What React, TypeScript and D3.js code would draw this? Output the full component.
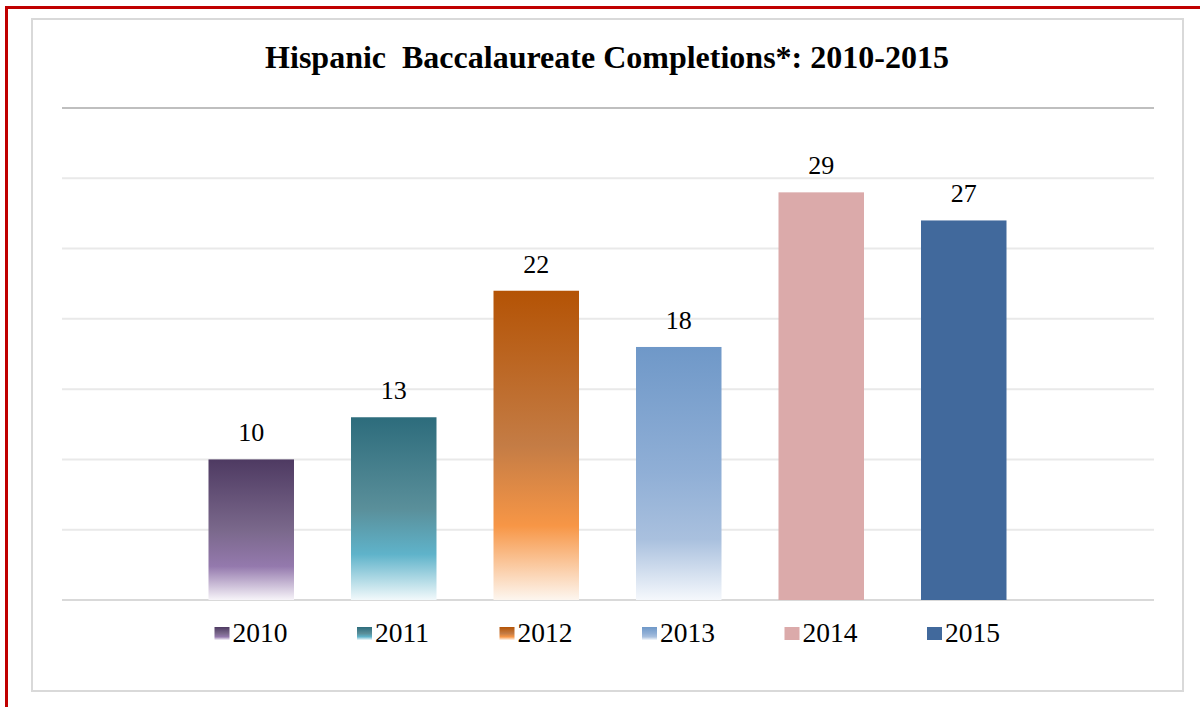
import React from 'react';
import * as d3 from 'd3';

const years = ['2010', '2011', '2012', '2013', '2014', '2015'];
const completions = [10, 13, 22, 18, 29, 27];
const yTicks = [0, 5, 10, 15, 20, 25, 30, 35];

// gradient stops per series (solid ones have a single colour)
const fills: { stops: [number, string][] }[] = [
  { stops: [[0, '#4e3a62'], [0.5, '#7a688b'], [0.76, '#9479ad'], [1, '#f7f4f9']] },
  { stops: [[0, '#2d6c7c'], [0.5, '#5a8f9a'], [0.75, '#5fb3ca'], [1, '#f2f9fb']] },
  { stops: [[0, '#b45305'], [0.5, '#c47c45'], [0.76, '#f79646'], [1, '#fdf6ef']] },
  { stops: [[0, '#6f98c8'], [0.5, '#90afd6'], [0.76, '#a9c0de'], [1, '#f5f8fc']] },
  { stops: [[0, '#dbaaaa']] },
  { stops: [[0, '#41699c']] },
];

const W = 1200;
const H = 707;
const plotLeft = 62;
const plotRight = 1154;

export default function App() {
  const x = d3.scaleBand<string>().domain(years).range([180, 1035]).paddingInner(0.4).paddingOuter(0.2);
  const y = d3.scaleLinear().domain([0, 35]).range([600, 108]);

  return (
    <svg width={W} height={H} style={{ position: 'absolute', left: 0, top: 0, background: '#fff' }}
      fontFamily="'Liberation Serif', 'Times New Roman', serif">
      <defs>
        {fills.map((f, i) => (
          <linearGradient key={i} id={`g${i}`} x1="0" y1="0" x2="0" y2="1">
            {f.stops.map(([o, c], j) => <stop key={j} offset={o} stopColor={c} />)}
          </linearGradient>
        ))}
      </defs>
      <rect x={0} y={0} width={W} height={H} fill="#fff" />
      {/* outer red frame */}
      <rect x={6.5} y={7.5} width={W + 20} height={H + 20} fill="none" stroke="#c00000" strokeWidth={3} />
      {/* chart frame */}
      <rect x={32} y={19} width={1151} height={672} fill="#fff" stroke="#d9d9d9" strokeWidth={2} />

      <text x={607} y={68} textAnchor="middle" fontWeight="bold" fontSize={32} style={{ whiteSpace: 'pre' }}>
        {'Hispanic  Baccalaureate Completions*: 2010-2015'}
      </text>

      {yTicks.map(t => (
        <line key={t} x1={plotLeft} x2={plotRight} y1={y(t)} y2={y(t)}
          stroke={t === 35 ? '#bfbfbf' : t === 0 ? '#d9d9d9' : '#e9e9e9'} strokeWidth={2} />
      ))}

      {years.map((yr, i) => (
        <g key={yr}>
          <rect x={x(yr)} y={y(completions[i])} width={x.bandwidth()} height={y(0) - y(completions[i])}
            fill={`url(#g${i})`} />
          <text x={x(yr)! + x.bandwidth() / 2} y={y(completions[i]) - 18} textAnchor="middle" fontSize={26}>
            {completions[i]}
          </text>
        </g>
      ))}

      {years.map((yr, i) => (
        <g key={'l' + yr} transform={`translate(${x(yr)! + 6},627)`}>
          <rect x={0} y={0} width={15} height={13} fill={`url(#g${i})`} />
          <text x={18} y={15} fontSize={27.5}>{yr}</text>
        </g>
      ))}
    </svg>
  );
}
